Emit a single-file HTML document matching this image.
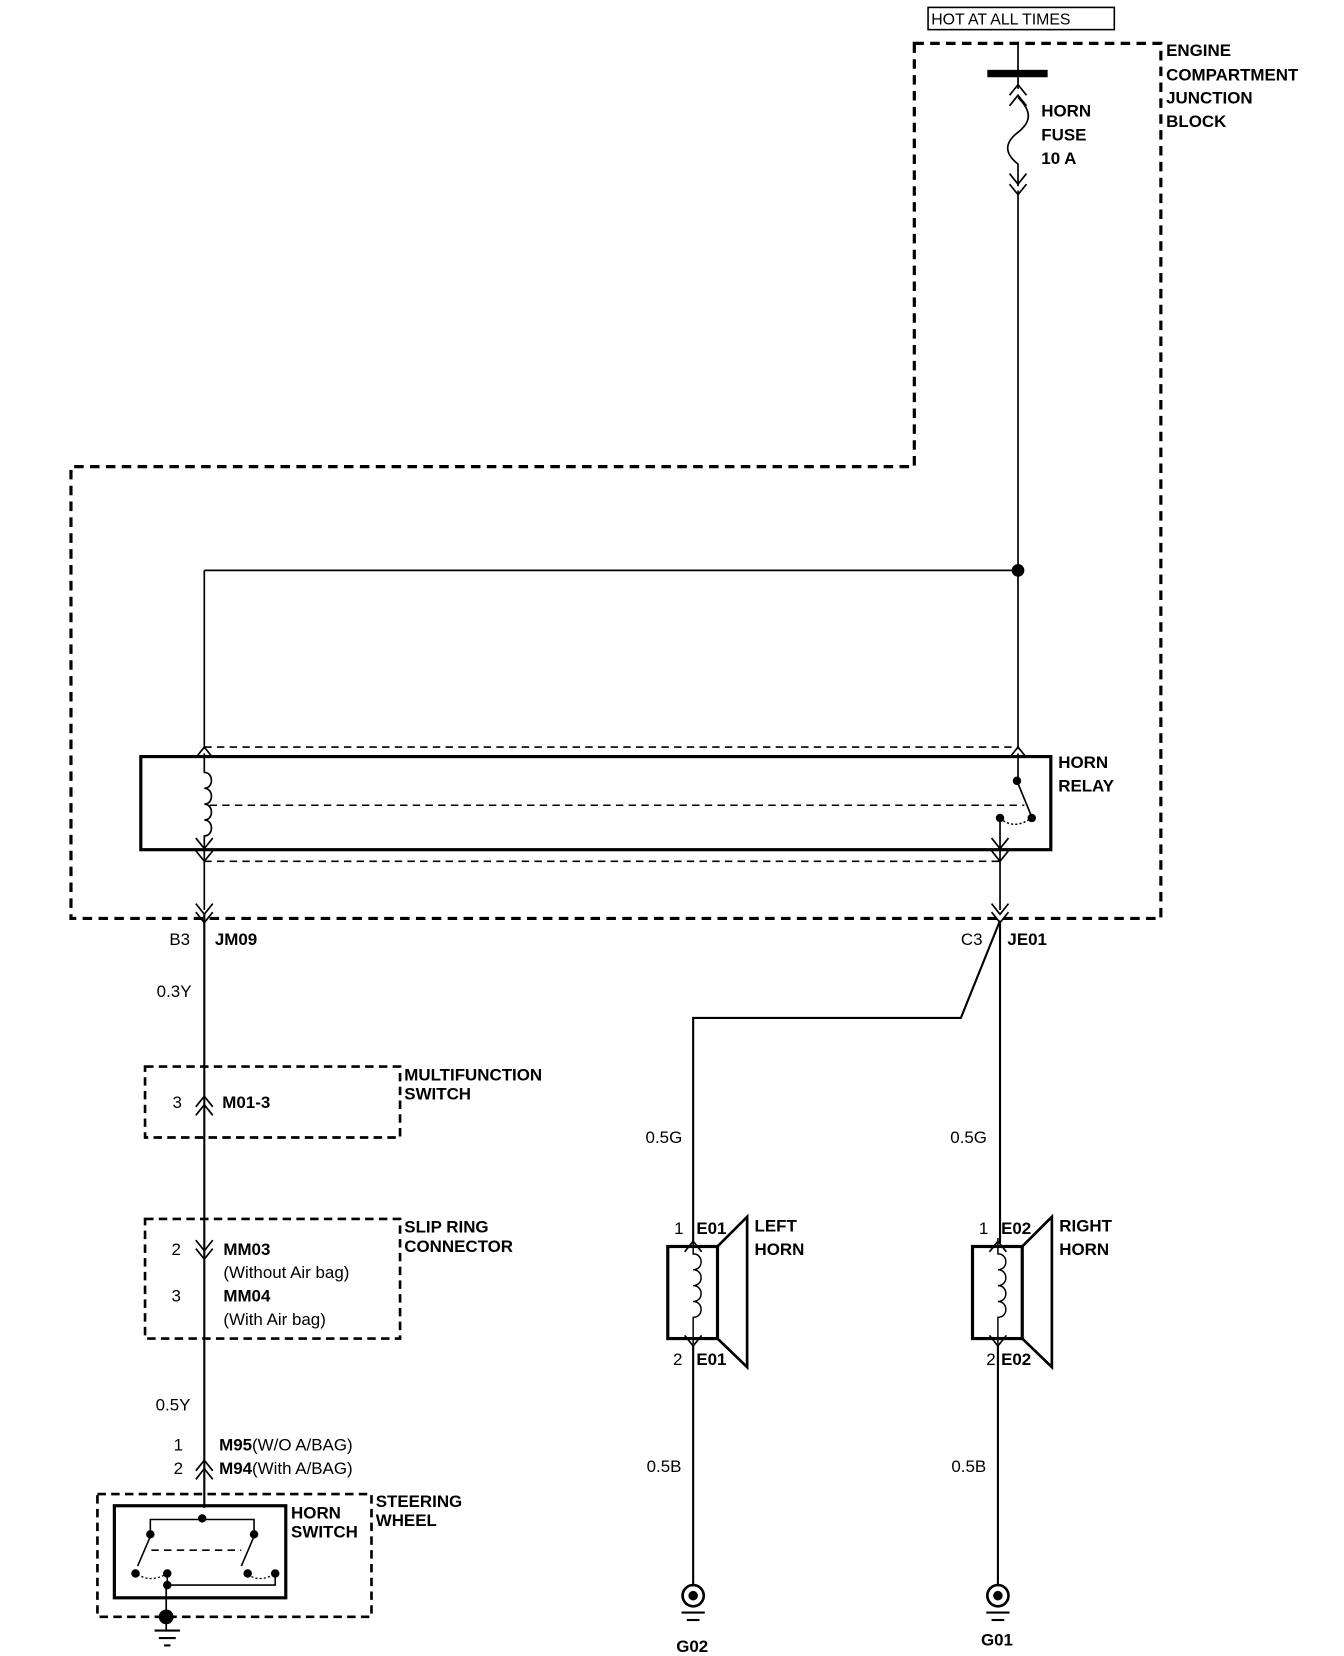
<!DOCTYPE html>
<html><head><style>
html,body{margin:0;padding:0;background:#fff;}
svg{display:block;}
text{font-family:"Liberation Sans",Arial,sans-serif;font-size:16px;fill:#000;}
.b{font-weight:bold;}
</style></head><body>
<svg width="1344" height="1656" viewBox="0 0 1270 1565" xmlns="http://www.w3.org/2000/svg">
<defs>
<g id="up"><polyline points="-8,8 0,-2 8,8" fill="none" stroke="#000" stroke-width="1.6"/></g>
<g id="dn"><polyline points="-8,-8 0,2 8,-8" fill="none" stroke="#000" stroke-width="1.6"/></g>
</defs>
<g fill="none" stroke="#000">
<!-- HOT box -->
<rect x="877" y="7" width="176" height="21" stroke-width="1.5"/>
<!-- Engine JB boundary -->
<polygon points="864,41 1097,41 1097,868 67,868 67,441 864,441" stroke-width="3" stroke-dasharray="9,6"/>
<!-- main wire -->
<line x1="962" y1="41" x2="962" y2="84" stroke-width="1.6"/>
<rect x="933" y="66" width="57" height="7" fill="#000" stroke="none"/>
<path d="M962,92 C975,105 975,115 962,125 C949,135 949,145 962,155 L962,176" stroke-width="1.6"/>
<line x1="962" y1="180" x2="962" y2="708" stroke-width="1.6"/>
<line x1="193" y1="539" x2="962" y2="539" stroke-width="1.6"/>
<line x1="193" y1="539" x2="193" y2="708" stroke-width="1.6"/>
<!-- relay -->
<rect x="133" y="715" width="860" height="88" stroke-width="3"/>
<line x1="193" y1="706" x2="962" y2="706" stroke-width="1.5" stroke-dasharray="7,5"/>
<line x1="198" y1="761" x2="968" y2="761" stroke-width="1.5" stroke-dasharray="7,5"/>
<line x1="193" y1="814" x2="945" y2="814" stroke-width="1.5" stroke-dasharray="7,5"/>
<path d="M193,712 L193,730 C202,730 202,745 193,745 C202,745 202,760 193,760 C202,760 202,775 193,775 C202,775 202,790 193,790 L193,860" stroke-width="1.6"/>
<line x1="962" y1="712" x2="962" y2="738" stroke-width="1.6"/>
<line x1="961" y1="738" x2="975" y2="772" stroke-width="1.6"/>
<path d="M945,773 Q958,785 975,773" stroke-width="1.4" stroke-dasharray="2,2"/>
<line x1="945" y1="773" x2="945" y2="860" stroke-width="1.6"/>
<!-- lower wires -->
<line x1="193" y1="864" x2="193" y2="1425" stroke-width="2"/>
<polyline points="945,870 908,962 655,962 655,1175" stroke-width="2"/>
<line x1="945" y1="870" x2="945" y2="1175" stroke-width="2"/>
<!-- multifunction / slip ring -->
<rect x="137" y="1008" width="241" height="67" stroke-width="2.5" stroke-dasharray="8,5"/>
<rect x="137" y="1152" width="241" height="113" stroke-width="2.5" stroke-dasharray="8,5"/>
<!-- steering wheel -->
<rect x="92" y="1412" width="259" height="116" stroke-width="2.5" stroke-dasharray="8,5"/>
<rect x="108" y="1423" width="162" height="87" stroke-width="3"/>
<polyline points="142,1452 142,1436 240,1436 240,1452" stroke-width="1.5"/>
<line x1="142" y1="1452" x2="130" y2="1480" stroke-width="1.5"/>
<line x1="240" y1="1452" x2="228" y2="1480" stroke-width="1.5"/>
<line x1="143" y1="1465" x2="228" y2="1465" stroke-width="1.5" stroke-dasharray="7,5"/>
<path d="M130,1488 Q143,1496 158,1487" stroke-width="1.2" stroke-dasharray="2,2"/>
<path d="M234,1488 Q246,1496 260,1487" stroke-width="1.2" stroke-dasharray="2,2"/>
<polyline points="158,1487 158,1498 260,1498 260,1487" stroke-width="1.5"/>
<line x1="157" y1="1498" x2="157" y2="1540" stroke-width="1.6"/>
<line x1="146" y1="1541" x2="170" y2="1541" stroke-width="2"/>
<line x1="150" y1="1548" x2="166" y2="1548" stroke-width="2"/>
<line x1="155" y1="1555" x2="161" y2="1555" stroke-width="2"/>
<!-- horns -->
<g id="horn">
<rect x="631" y="1178" width="47" height="87" stroke-width="3"/>
<polyline points="678,1178 706,1150 706,1292 678,1265" stroke-width="2.5"/>
<path d="M655,1170 L655,1185 C665,1185 665,1200 655,1200 C665,1200 665,1215 655,1215 C665,1215 665,1230 655,1230 C665,1230 665,1245 655,1245 L655,1270" stroke-width="1.4"/>
<line x1="655" y1="1272" x2="655" y2="1498" stroke-width="2"/>
<circle cx="655" cy="1508" r="10" stroke-width="2.5"/>
<circle cx="655" cy="1508" r="4" fill="#000"/>
<line x1="644" y1="1524" x2="666" y2="1524" stroke-width="2"/>
<line x1="649" y1="1531" x2="661" y2="1531" stroke-width="2"/>
</g>
<use href="#horn" transform="translate(288,0)"/>
</g>
<!-- chevrons -->
<use href="#up" x="962" y="82"/><use href="#up" x="962" y="92"/>
<use href="#dn" x="962" y="172"/><use href="#dn" x="962" y="182"/>
<use href="#up" x="193" y="708"/><use href="#up" x="962" y="708"/>
<use href="#dn" x="193" y="800"/><use href="#dn" x="193" y="812"/><use href="#dn" x="945" y="800"/><use href="#dn" x="945" y="812"/>
<use href="#dn" x="193" y="862"/><use href="#dn" x="193" y="870"/><use href="#dn" x="945" y="862"/><use href="#dn" x="945" y="870"/>
<use href="#up" x="193" y="1038"/><use href="#up" x="193" y="1046"/>
<use href="#dn" x="193" y="1180"/><use href="#dn" x="193" y="1188"/>
<use href="#up" x="193" y="1382"/><use href="#up" x="193" y="1390"/>
<use href="#up" x="655" y="1175"/><use href="#dn" x="655" y="1270"/>
<use href="#up" x="943" y="1175"/><use href="#dn" x="943" y="1270"/>
<!-- dots -->
<g fill="#000">
<circle cx="962" cy="539" r="6"/>
<circle cx="961" cy="738" r="4"/><circle cx="975" cy="773" r="4"/><circle cx="945" cy="773" r="4"/>
<circle cx="191" cy="1435" r="4"/><circle cx="142" cy="1450" r="4"/><circle cx="240" cy="1450" r="4"/>
<circle cx="128" cy="1487" r="4"/><circle cx="158" cy="1487" r="4"/><circle cx="234" cy="1487" r="4"/><circle cx="260" cy="1487" r="4"/>
<circle cx="158" cy="1498" r="4"/><circle cx="157" cy="1528" r="7"/>
</g>
<!-- labels -->
<text x="880" y="23" style="font-size:15px">HOT AT ALL TIMES</text>
<g class="b">
<text x="1102" y="53" class="b">ENGINE</text>
<text x="1102" y="76" class="b">COMPARTMENT</text>
<text x="1102" y="98" class="b">JUNCTION</text>
<text x="1102" y="120" class="b">BLOCK</text>
<text x="984" y="110" class="b">HORN</text>
<text x="984" y="133" class="b">FUSE</text>
<text x="984" y="155" class="b">10 A</text>
<text x="1000" y="726" class="b">HORN</text>
<text x="1000" y="748" class="b">RELAY</text>
<text x="203" y="893" class="b">JM09</text>
<text x="952" y="893" class="b">JE01</text>
<text x="210" y="1047" class="b">M01-3</text>
<text x="382" y="1021" class="b">MULTIFUNCTION</text>
<text x="382" y="1039" class="b">SWITCH</text>
<text x="382" y="1165" class="b">SLIP RING</text>
<text x="382" y="1183" class="b">CONNECTOR</text>
<text x="211" y="1186" class="b">MM03</text>
<text x="211" y="1230" class="b">MM04</text>
<text x="207" y="1371" class="b">M95<tspan font-weight="normal">(W/O A/BAG)</tspan></text>
<text x="207" y="1393" class="b">M94<tspan font-weight="normal">(With A/BAG)</tspan></text>
<text x="275" y="1435" class="b">HORN</text>
<text x="275" y="1453" class="b">SWITCH</text>
<text x="355" y="1424" class="b">STEERING</text>
<text x="355" y="1442" class="b">WHEEL</text>
<text x="658" y="1166" class="b">E01</text>
<text x="658" y="1290" class="b">E01</text>
<text x="946" y="1166" class="b">E02</text>
<text x="946" y="1290" class="b">E02</text>
<text x="713" y="1164" class="b">LEFT</text>
<text x="713" y="1186" class="b">HORN</text>
<text x="1001" y="1164" class="b">RIGHT</text>
<text x="1001" y="1186" class="b">HORN</text>
<text x="639" y="1561" class="b">G02</text>
<text x="927" y="1555" class="b">G01</text>
</g>
<text x="160" y="893">B3</text>
<text x="908" y="893">C3</text>
<text x="148" y="942">0.3Y</text>
<text x="163" y="1047">3</text>
<text x="162" y="1186">2</text>
<text x="162" y="1230">3</text>
<text x="211" y="1208">(Without Air bag)</text>
<text x="211" y="1252">(With Air bag)</text>
<text x="147" y="1333">0.5Y</text>
<text x="164" y="1371">1</text>
<text x="164" y="1393">2</text>
<text x="610" y="1080">0.5G</text>
<text x="898" y="1080">0.5G</text>
<text x="637" y="1166">1</text>
<text x="925" y="1166">1</text>
<text x="636" y="1290">2</text>
<text x="932" y="1290">2</text>
<text x="611" y="1391">0.5B</text>
<text x="899" y="1391">0.5B</text>
</svg>
</body></html>
